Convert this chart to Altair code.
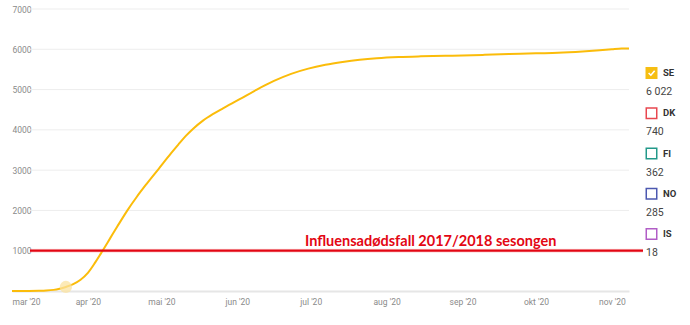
import altair as alt
import pandas as pd

# SE cumulative deaths
dates = ["2020-03-01", "2020-03-08", "2020-03-12", "2020-03-15", "2020-03-18", "2020-03-20",
         "2020-03-23", "2020-03-26", "2020-03-29", "2020-04-01", "2020-04-04", "2020-04-07",
         "2020-04-10", "2020-04-13", "2020-04-17", "2020-04-21", "2020-04-25", "2020-04-30",
         "2020-05-05", "2020-05-08", "2020-05-11", "2020-05-14", "2020-05-18", "2020-05-22",
         "2020-05-26", "2020-06-02", "2020-06-09", "2020-06-16", "2020-06-23", "2020-06-30",
         "2020-07-07", "2020-07-14", "2020-07-21", "2020-07-28", "2020-08-06", "2020-08-15",
         "2020-08-25", "2020-09-01", "2020-09-10", "2020-09-20", "2020-10-01", "2020-10-10",
         "2020-10-20", "2020-10-27", "2020-11-01", "2020-11-05", "2020-11-08"]
se_deaths = [0, 1, 5, 12, 28, 48,
             100, 170, 280, 450, 710, 1000,
             1300, 1600, 1990, 2340, 2660, 3040,
             3420, 3640, 3850, 4030, 4230, 4390,
             4530, 4760, 5000, 5215, 5390, 5520,
             5615, 5685, 5740, 5778, 5808, 5825,
             5838, 5846, 5862, 5880, 5900, 5913,
             5945, 5975, 6000, 6018, 6022]

hover_date = ["2020-03-23"]
hover_value = [100]

grid_values = [1000, 2000, 3000, 4000, 5000, 6000, 7000]
month_ticks = [(2020, m) for m in range(3, 12)]
month_names = ["jan", "feb", "mar", "apr", "mai", "jun", "jul", "aug", "sep", "okt", "nov", "des"]

flu_value = [1000]
flu_label = "Influensadødsfall 2017/2018 sesongen"

legend_codes = ["SE", "DK", "FI", "NO", "IS"]
legend_values = ["6 022", "740", "362", "285", "18"]
legend_colors = ["#F6BE12", "#E8474F", "#23998A", "#4C58B0", "#B15DC6"]
legend_fills = ["#F6BE12", "#FFFFFF", "#FFFFFF", "#FFFFFF", "#FFFFFF"]

df = pd.DataFrame({"date": dates, "deaths": se_deaths})
hover_df = pd.DataFrame({"date": hover_date, "deaths": hover_value})
grid_df = pd.DataFrame({"v": grid_values})
flu_df = pd.DataFrame({"v": flu_value, "label": [flu_label]})
leg_df = pd.DataFrame({
    "idx": list(range(len(legend_codes))),
    "code": legend_codes,
    "val": legend_values,
    "color": legend_colors,
    "fill": legend_fills,
})
check_df = leg_df[leg_df["code"] == "SE"]

FONT = "Roboto"
names_js = "[" + ",".join("'%s'" % n for n in month_names) + "]"
label_expr = names_js + "[utcmonth(datum.value)] + \" '\" + utcFormat(datum.value, '%y')"

xscale = alt.Scale(type="utc", domain=[alt.DateTime(year=2020, month=3, date=1, utc=True),
                                       alt.DateTime(year=2020, month=11, date=8, utc=True)])
yscale = alt.Scale(domain=[0, 7000], nice=False)

xaxis = alt.Axis(
    values=[alt.DateTime(year=y, month=m, date=1, utc=True) for y, m in month_ticks],
    labelExpr=label_expr, title=None, grid=False, ticks=False,
    domainColor="#E6E6E6", domainWidth=2, labelFlush=True,
    labelColor="#8A8A8A", labelFont=FONT, labelFontSize=8.5, labelPadding=6,
)
yaxis = alt.Axis(
    values=grid_values, format="d", title=None, grid=False, ticks=False, tickSize=0, domain=False,
    labelAlign="left", labelBaseline="middle", labelPadding=0,
    labelColor="#8A8A8A", labelFont=FONT, labelFontSize=8.5,
)

grid = alt.Chart(grid_df).mark_rule(color="#EDEDED", strokeWidth=1).encode(
    y=alt.Y("v:Q", scale=yscale, axis=yaxis),
    x=alt.value(18), x2=alt.value(617),
)

line = alt.Chart(df).mark_line(color="#FBBC0A", strokeWidth=2, interpolate="monotone").encode(
    x=alt.X("date:T", scale=xscale, axis=xaxis),
    y=alt.Y("deaths:Q", scale=yscale),
)

hover = alt.Chart(hover_df).mark_circle(color="#FBE3A0", opacity=0.75, size=150).encode(
    x=alt.X("date:T", scale=xscale),
    y=alt.Y("deaths:Q", scale=yscale),
)

flu_halo = alt.Chart(flu_df).mark_rule(color="#F6A5A5", strokeWidth=4, opacity=0.35).encode(
    y=alt.Y("v:Q", scale=yscale), x=alt.value(18), x2=alt.value(631),
)
flu_rule = alt.Chart(flu_df).mark_rule(color="#E30613", strokeWidth=2.2).encode(
    y=alt.Y("v:Q", scale=yscale), x=alt.value(18), x2=alt.value(631),
)
flu_text = alt.Chart(flu_df).mark_text(
    align="left", baseline="alphabetic", dy=-5, font="Lato", fontSize=14.5,
    fontWeight="bold", color="#E30613",
).encode(y=alt.Y("v:Q", scale=yscale), x=alt.value(293), text="label:N")

main = alt.layer(grid, flu_halo, line, hover, flu_rule, flu_text)

ly = alt.Y("idx:Q", scale=alt.Scale(domain=[0, 4], range=[64, 225]), axis=None)

squares = alt.Chart(leg_df).mark_square(size=110, strokeWidth=1.5, opacity=1).encode(
    y=ly, x=alt.value(639.5),
    fill=alt.Fill("fill:N", scale=None),
    stroke=alt.Stroke("color:N", scale=None),
)
check = alt.Chart(check_df).mark_point(
    shape="M-0.55,0 L-0.12,0.42 L0.6,-0.42", size=110, filled=False,
    stroke="#FFFFFF", strokeWidth=1.6, opacity=1,
).encode(y=ly, x=alt.value(639.5))
codes = alt.Chart(leg_df).mark_text(
    align="left", baseline="middle", font=FONT, fontSize=9.5, fontWeight="bold", color="#333333",
).encode(y=ly, x=alt.value(651), text="code:N")
vals = alt.Chart(leg_df).mark_text(
    align="left", baseline="middle", dy=19, font=FONT, fontSize=10.5, color="#444444",
).encode(y=ly, x=alt.value(634), text="val:N")

legend = alt.layer(squares, check, codes, vals)

chart = alt.layer(main, legend).resolve_scale(y="independent").properties(
    width=617, height=282,
    autosize=alt.AutoSizeParams(type="none"),
    padding={"left": 12, "top": 9, "right": 61, "bottom": 34},
    background="white",
).configure_view(stroke=None)

chart.save("out.html", embed_options={"renderer": "svg", "actions": False})
